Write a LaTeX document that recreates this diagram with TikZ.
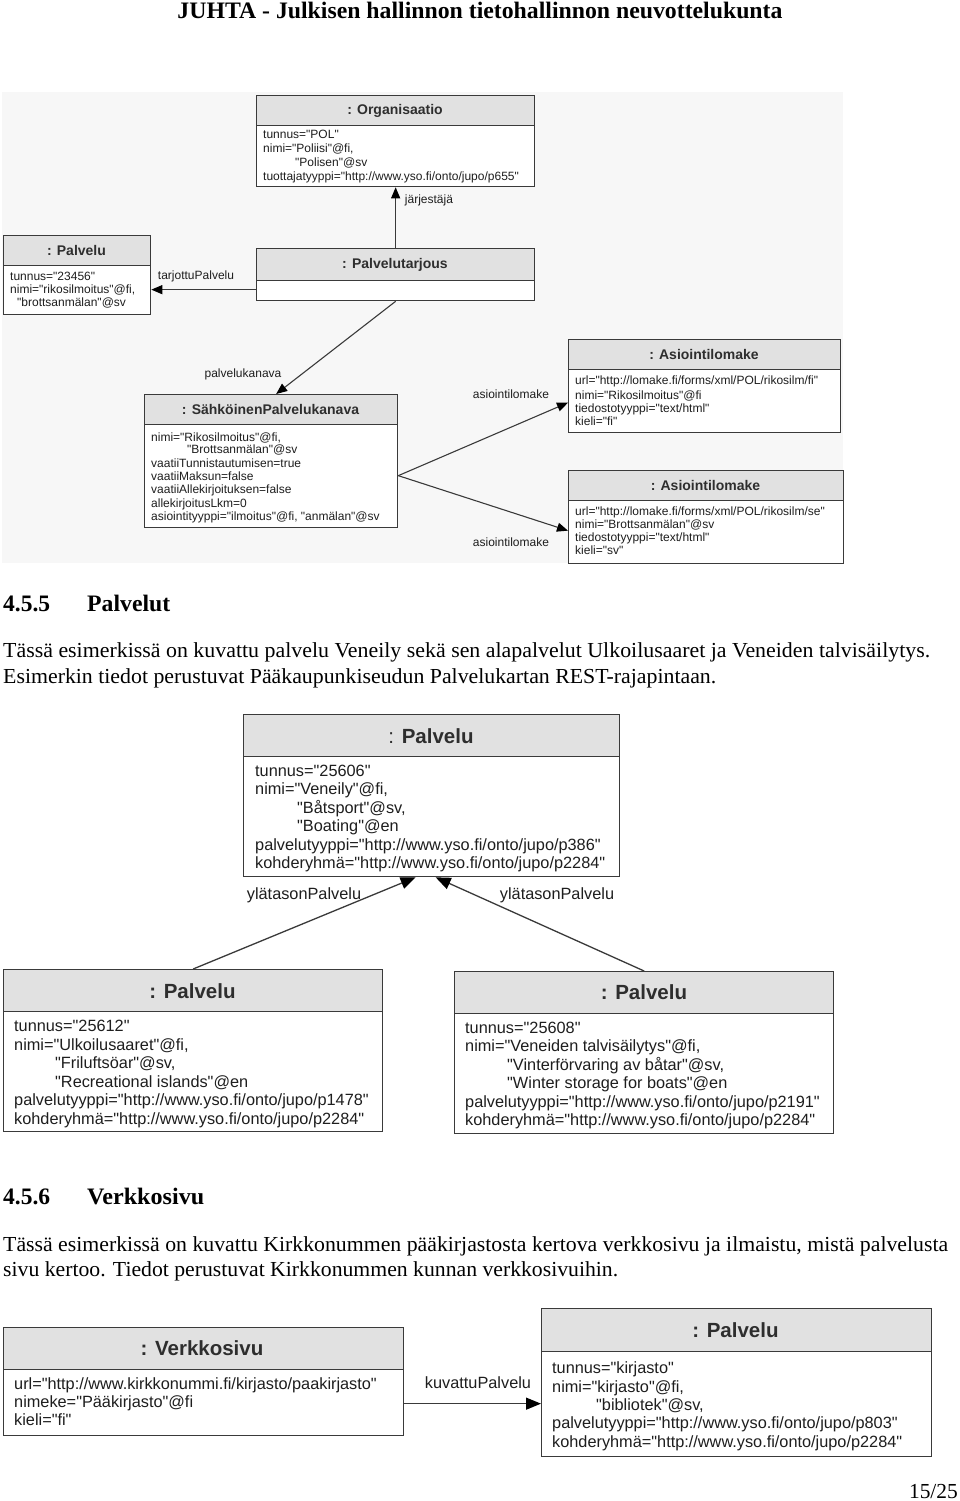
\documentclass[tikz,border=0pt]{standalone}
\usepackage{fontspec}
\setmainfont{Liberation Serif}
\newfontfamily\dsans{Liberation Sans}
\usetikzlibrary{arrows.meta,calc}
\definecolor{hdrc}{HTML}{E1E1E1}
\definecolor{boxc}{HTML}{3A3A3A}
\definecolor{bgc}{HTML}{F7F7F7}
\definecolor{txtc}{HTML}{1E1E1E}
\definecolor{ttlc}{HTML}{2E2E2E}
\definecolor{linec}{HTML}{3A3A3A}
\newcommand\fitw[2]{\resizebox{#1}{\height}{#2}}
\begin{document}
\begin{tikzpicture}[x=1pt,y=-1pt,
  umlbox/.style={rectangle, draw=boxc, line width=1.3pt, fill=white, inner sep=0, anchor=north west,
    path picture={\fill[hdrc] (path picture bounding box.north west) rectangle ([yshift=-#1]path picture bounding box.north east);
      \draw[boxc, line width=1.3pt] ([yshift=-#1]path picture bounding box.north west) -- ([yshift=-#1]path picture bounding box.north east);}},
  sm/.style={anchor=base west, inner sep=0, text=txtc, font=\dsans\fontsize{12}{14}\selectfont},
  smt/.style={anchor=base, inner sep=0, text=ttlc, font=\dsans\bfseries\fontsize{14}{16}\selectfont},
  sml/.style={anchor=base, inner sep=0, text=txtc, font=\dsans\fontsize{12}{14}\selectfont},
  md/.style={anchor=base west, inner sep=0, text=txtc, font=\dsans\fontsize{16.3}{18}\selectfont},
  mdt/.style={anchor=base, inner sep=0, text=ttlc, font=\dsans\bfseries\fontsize{20.5}{22}\selectfont},
  mdl/.style={anchor=base, inner sep=0, text=txtc, font=\dsans\fontsize{16.3}{18}\selectfont},
  conns/.style={draw=linec, line width=1.1pt, -{Triangle[length=11pt,width=9pt,color=black]}},
  connm/.style={draw=linec, line width=1.3pt, -{Triangle[length=15pt,width=12pt,color=black]}},
  para/.style={anchor=base west, inner sep=0, font=\fontsize{21.4}{25}\selectfont},
  headt/.style={anchor=base west, inner sep=0, font=\bfseries\fontsize{23.6}{28}\selectfont}
]
\useasboundingbox[fill=white] (0,0) rectangle (960,1501);

% page header
\node[headt, anchor=base] (hdr) at (480,19) {\fitw{605pt}{JUHTA - Julkisen hallinnon tietohallinnon neuvottelukunta}};

% ---------------- diagram 1 ----------------
\fill[bgc] (2,92) rectangle (843,563);

\node[umlbox=30pt, minimum width=278pt, minimum height=91pt] (org) at (256,95) {};
\node[smt] (orgt) at (395,115) {: Organisaatio};
\node[sm] (org1) at (263,139) {tunnus="POL"};
\node[sm] (org2) at (263,153) {nimi="Poliisi"@fi,};
\node[sm] (org3) at (295,166) {"Polisen"@sv};
\node[sm] (org4) at (263,180) {tuottajatyyppi="http://www.yso.fi/onto/jupo/p655"};

\node[umlbox=30pt, minimum width=147pt, minimum height=79pt] (tl) at (3,235) {};
\node[smt] (tlt) at (76.5,255) {: Palvelu};
\node[sm] (tl1) at (10,280) {tunnus="23456"};
\node[sm] (tl2) at (10,293) {nimi="rikosilmoitus"@fi,};
\node[sm] (tl3) at (17,306) {"brottsanmälan"@sv};

\node[umlbox=32pt, minimum width=278pt, minimum height=52pt] (ptj) at (256,248) {};
\node[smt] (ptjt) at (395,268) {: Palvelutarjous};

\node[umlbox=30pt, minimum width=253pt, minimum height=133pt] (spk) at (144,394) {};
\node[smt] (spkt) at (270.5,414) {: SähköinenPalvelukanava};
\node[sm] (spk1) at (151,441) {nimi="Rikosilmoitus"@fi,};
\node[sm] (spk2) at (187,453) {"Brottsanmälan"@sv};
\node[sm] (spk3) at (151,467) {vaatiiTunnistautumisen=true};
\node[sm] (spk4) at (151,480) {vaatiiMaksun=false};
\node[sm] (spk5) at (151,493) {vaatiiAllekirjoituksen=false};
\node[sm] (spk6) at (151,507) {allekirjoitusLkm=0};
\node[sm] (spk7) at (151,520) {asiointityyppi="ilmoitus"@fi, "anmälan"@sv};

\node[umlbox=30pt, minimum width=272pt, minimum height=93pt] (as1) at (568,339) {};
\node[smt] (as1t) at (704,359) {: Asiointilomake};
\node[sm] (as11) at (575,384.5) {url="http://lomake.fi/forms/xml/POL/rikosilm/fi"};
\node[sm] (as12) at (575,399) {nimi="Rikosilmoitus"@fi};
\node[sm] (as13) at (575,412) {tiedostotyyppi="text/html"};
\node[sm] (as14) at (575,425) {kieli="fi"};

\node[umlbox=30pt, minimum width=275pt, minimum height=93pt] (as2) at (568,470) {};
\node[smt] (as2t) at (705.5,490) {: Asiointilomake};
\node[sm] (as21) at (575,515.5) {url="http://lomake.fi/forms/xml/POL/rikosilm/se"};
\node[sm] (as22) at (575,528.5) {nimi="Brottsanmälan"@sv};
\node[sm] (as23) at (575,541) {tiedostotyyppi="text/html"};
\node[sm] (as24) at (575,554) {kieli="sv"};

\draw[conns] (ptj.north) -- (org.south);
\node[sml] (l1) at (429,203) {järjestäjä};
\coordinate (c1) at ([yshift=-15pt]ptj.west);
\draw[conns] (c1) -- (c1 -| tl.east);
\node[sml] (l2) at (196,279) {tarjottuPalvelu};
\draw[conns] (ptj.south) -- ([xshift=5pt]spk.north);
\node[sml] (l3) at (243,377) {palvelukanava};
\coordinate (c2) at ([yshift=-14.5pt]spk.east);
\draw[conns] (c2) -- ([yshift=-16.5pt]as1.west);
\draw[conns] (c2) -- ([yshift=-13.5pt]as2.west);
\node[sml] (l4) at (511,398) {asiointilomake};
\node[sml] (l5) at (511,546) {asiointilomake};

% ---------------- section 4.5.5 ----------------
\node[headt] (h1a) at (3,611) {\fitw{47pt}{4.5.5}};
\node[headt] (h1b) at (87,611) {\fitw{83pt}{Palvelut}};
\node[para] (p1a) at (3,657) {\fitw{927pt}{Tässä esimerkissä on kuvattu palvelu Veneily sekä sen alapalvelut Ulkoilusaaret ja Veneiden talvisäilytys.}};
\node[para] (p1b) at (3,683) {\fitw{713pt}{Esimerkin tiedot perustuvat Pääkaupunkiseudun Palvelukartan REST-rajapintaan.}};

% ---------------- diagram 2 ----------------
\node[umlbox=42pt, minimum width=376pt, minimum height=162pt] (pv) at (243,714) {};
\node[mdt] (pvt) at (431,743) {{\mdseries :} Palvelu};
\node[md] (pv1) at (255,776) {tunnus="25606"};
\node[md] (pv2) at (255,794.5) {nimi="Veneily"@fi,};
\node[md] (pv3) at (297,813) {"Båtsport"@sv,};
\node[md] (pv4) at (297,831.5) {"Boating"@en};
\node[md] (pv5) at (255,850) {palvelutyyppi="http://www.yso.fi/onto/jupo/p386"};
\node[md] (pv6) at (255,868.5) {kohderyhmä="http://www.yso.fi/onto/jupo/p2284"};

\node[umlbox=42pt, minimum width=379pt, minimum height=162pt] (pl) at (3,969) {};
\node[mdt] (plt) at (192.5,998) {: Palvelu};
\node[md] (pl1) at (14,1031.5) {tunnus="25612"};
\node[md] (pl2) at (14,1050) {nimi="Ulkoilusaaret"@fi,};
\node[md] (pl3) at (55,1068.5) {"Friluftsöar"@sv,};
\node[md] (pl4) at (55,1087) {"Recreational islands"@en};
\node[md] (pl5) at (14,1105.5) {palvelutyyppi="http://www.yso.fi/onto/jupo/p1478"};
\node[md] (pl6) at (14,1124) {kohderyhmä="http://www.yso.fi/onto/jupo/p2284"};

\node[umlbox=42pt, minimum width=379pt, minimum height=162pt] (pr) at (454,971) {};
\node[mdt] (prt) at (644,999) {: Palvelu};
\node[md] (pr1) at (465,1033) {tunnus="25608"};
\node[md] (pr2) at (465,1051.5) {nimi="Veneiden talvisäilytys"@fi,};
\node[md] (pr3) at (507,1070) {"Vinterförvaring av båtar"@sv,};
\node[md] (pr4) at (507,1088.5) {"Winter storage for boats"@en};
\node[md] (pr5) at (465,1107) {palvelutyyppi="http://www.yso.fi/onto/jupo/p2191"};
\node[md] (pr6) at (465,1125.5) {kohderyhmä="http://www.yso.fi/onto/jupo/p2284"};

\draw[connm] (pl.north) -- ([xshift=-16pt]pv.south);
\draw[connm] (pr.north) -- ([xshift=4pt]pv.south);
\node[mdl] (l6) at (304,899.5) {ylätasonPalvelu};
\node[mdl] (l7) at (557,899.5) {ylätasonPalvelu};

% ---------------- section 4.5.6 ----------------
\node[headt] (h2a) at (3,1204) {\fitw{47pt}{4.5.6}};
\node[headt] (h2b) at (87,1204) {\fitw{117pt}{Verkkosivu}};
\node[para] (p2a) at (3,1251) {\fitw{945pt}{Tässä esimerkissä on kuvattu Kirkkonummen pääkirjastosta kertova verkkosivu ja ilmaistu, mistä palvelusta}};
\node[para] (p2b) at (3,1276) {\fitw{615pt}{sivu kertoo. Tiedot perustuvat Kirkkonummen kunnan verkkosivuihin.}};

% ---------------- diagram 3 ----------------
\node[umlbox=42pt, minimum width=400pt, minimum height=108pt] (vs) at (3,1327) {};
\node[mdt] (vst) at (202,1355) {: Verkkosivu};
\node[md] (vs1) at (14,1389.5) {url="http://www.kirkkonummi.fi/kirjasto/paakirjasto"};
\node[md] (vs2) at (14,1407.5) {nimeke="Pääkirjasto"@fi};
\node[md] (vs3) at (14,1425.5) {kieli="fi"};

\node[umlbox=43pt, minimum width=390pt, minimum height=148pt] (pb) at (541,1308) {};
\node[mdt] (pbt) at (735.5,1337.5) {: Palvelu};
\node[md] (pb1) at (552,1373.5) {tunnus="kirjasto"};
\node[md] (pb2) at (552,1392.5) {nimi="kirjasto"@fi,};
\node[md] (pb3) at (596,1410.5) {"bibliotek"@sv,};
\node[md] (pb4) at (552,1428.5) {palvelutyyppi="http://www.yso.fi/onto/jupo/p803"};
\node[md] (pb5) at (552,1447.5) {kohderyhmä="http://www.yso.fi/onto/jupo/p2284"};

\coordinate (c3) at ([yshift=-22pt]vs.east);
\draw[connm] (c3) -- (c3 -| pb.west);
\node[mdl] (l8) at (478,1388.5) {kuvattuPalvelu};

% page number
\node[para, anchor=base east] (pg) at (958,1498) {15/25};
\end{tikzpicture}
\end{document}
